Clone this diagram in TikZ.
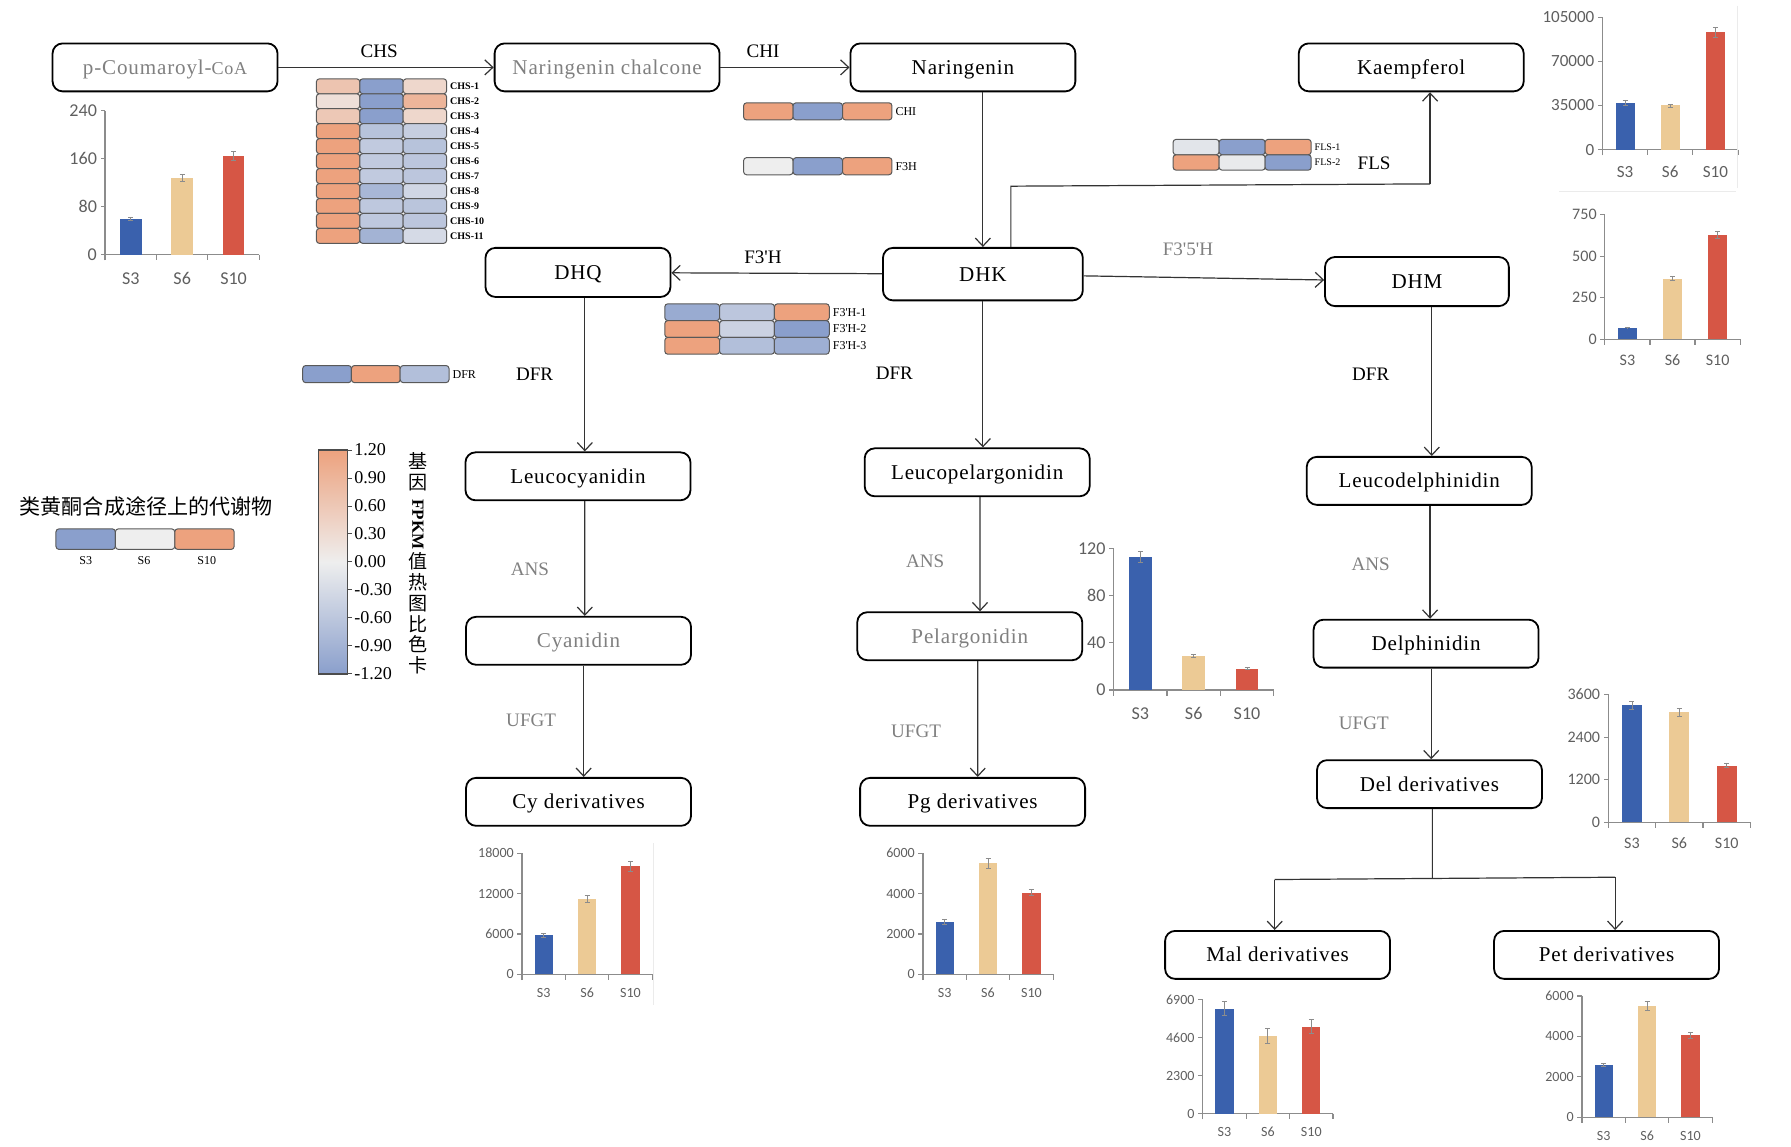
\documentclass[tikz,border=0pt]{standalone}
\usepackage{fontspec}
\setmainfont{Liberation Serif}
\newfontfamily\boxfont[LetterSpace=4]{Liberation Serif}
\newfontfamily\chartfont{Carlito}
\newfontfamily\cjk{Noto Sans CJK SC}
\usetikzlibrary{arrows.meta,calc}

\definecolor{hmhi}{HTML}{EDA27E}
\definecolor{hmmid}{HTML}{EEEEEE}
\definecolor{hmlo}{HTML}{8A9FCC}
\definecolor{barS3}{HTML}{3A61AD}
\definecolor{barS6}{HTML}{ECCA95}
\definecolor{barS10}{HTML}{D65645}
\definecolor{axisgray}{HTML}{8C8C8C}
\definecolor{labgray}{HTML}{5F5F5F}

\newcommand{\ap}{\textquotesingle}

% heat map colour from a value in -100..100
\newcommand{\hmcol}[1]{%
  \ifnum#1<0 \colorlet{hmc}{hmlo!\the\numexpr0-(#1)\relax!hmmid}%
  \else\colorlet{hmc}{hmhi!#1!hmmid}\fi}

% one heat map row: x, y, cell width, cell height, values, label, label font
\newcommand{\hmrow}[7]{%
  \edef\hmlist{#5}%
  \foreach \v [count=\k from 0] in \hmlist {%
    \hmcol{\v}%
    \draw[hmcell, fill=hmc] ({#1+\k*#3},{#2}) rectangle ++(#3,#4);
  }
  \node[anchor=west, font=#7, inner sep=1pt] at ({#1+3*#3+1},{#2+#4/2}) {#6};}

% bar chart: origin, axis height, group width, axis max, tick labels, value/error/sample, font size
\newcommand{\fpkmchart}[7]{%
  \begin{scope}[shift={#1}, font=\chartfont\fontsize{#7}{#7}\selectfont, text=labgray]
    \draw[axisline] (0,5) -- (0,-#2);
    \foreach \t [count=\i from 0] in {#5}
      \draw[axisline] (0,{-\i*#2/3}) -- (-4,{-\i*#2/3}) node[left, inner sep=1.5pt] {\t};
    \draw[axisline] (0,0) -- ({3*#3},0);
    \foreach \k in {1,2,3}
      \draw[axisline] ({\k*#3},0) -- ({\k*#3},5);
    \foreach \v/\e/\s [count=\k] in {#6} {
      \fill[bar\s] ({(\k-0.5)*#3-0.21*#3},0) rectangle ({(\k-0.5)*#3+0.21*#3},{-\v/#4*#2});
      \draw[errbar] ({(\k-0.5)*#3},{-(\v-\e)/#4*#2}) -- ({(\k-0.5)*#3},{-(\v+\e)/#4*#2});
      \node[inner sep=0] at ({(\k-0.5)*#3},{2.3*#7}) {\s};
    }
  \end{scope}}

\begin{document}
\begin{tikzpicture}[x=0.02cm, y=-0.02cm,
  met/.style={draw, rounded corners=5pt, line width=0.9pt, minimum width=3.94cm, minimum height=0.84cm, inner sep=1pt, text height=0.75em, text depth=0.05em, font=\boxfont\fontsize{10.5}{12}\selectfont},
  faded/.style={text=black!50},
  enz/.style={inner sep=1pt, font=\fontsize{9.5}{11}\selectfont},
  arr/.style={-{Straight Barb[length=4pt,width=7.5pt]}, line width=0.6pt, draw=black!80},
  link/.style={line width=0.6pt, draw=black!80},
  hmcell/.style={draw=black!65, line width=0.5pt, rounded corners=1.5pt},
  axisline/.style={draw=axisgray, line width=0.6pt},
  errbar/.style={draw=black!45, line width=0.4pt, {Bar[width=2.5pt]}-{Bar[width=2.5pt]}}]
   \useasboundingbox (0,0) rectangle (1568,1004);

   % metabolites
   \node[met, faded] (pcoa) at (144.5,59) {p-Coumaroyl-{\fontsize{9}{10}\selectfont CoA}};
   \node[met, faded] (nchal) at (531.5,59) {Naringenin chalcone};
   \node[met] (nar) at (843,59) {Naringenin};
   \node[met] (kae) at (1235.5,59) {Kaempferol};
   \node[met, minimum width=3.24cm, minimum height=0.86cm] (dhq) at (506,238.5) {DHQ};
   \node[met, minimum width=3.5cm, minimum height=0.92cm] (dhk) at (860.5,240) {DHK};
   \node[met, minimum width=3.22cm, minimum height=0.86cm] (dhm) at (1240.5,246.5) {DHM};
   \node[met] (lcy) at (506,417) {Leucocyanidin};
   \node[met] (lpg) at (855.5,413.5) {Leucopelargonidin};
   \node[met] (ldp) at (1242.5,421) {Leucodelphinidin};
   \node[met, faded] (cy) at (506.5,561) {Cyanidin};
   \node[met, faded] (pg) at (849,557) {Pelargonidin};
   \node[met] (dp) at (1248.5,563.5) {Delphinidin};
   \node[met] (cyd) at (506.5,702) {Cy derivatives};
   \node[met] (pgd) at (851.5,702) {Pg derivatives};
   \node[met] (dpd) at (1251.5,686.5) {Del derivatives};
   \node[met] (mal) at (1118.5,836) {Mal derivatives};
   \node[met] (pet) at (1406.5,836) {Pet derivatives};

   % enzymes
   \node[enz] (lchs) at (332,45) {CHS};
   \node[enz] (lchi) at (668,45) {CHI};
   \node[enz] (lf3h) at (668,225) {F3\ap H};
   \node[enz, faded] (lf35h) at (1040,218) {F3\ap 5\ap H};
   \node[enz] (lfls) at (1203,143) {FLS};
   \node[enz] (ldfra) at (468,328) {DFR};
   \node[enz] (ldfrb) at (783,327) {DFR};
   \node[enz] (ldfrc) at (1200,328) {DFR};
   \node[enz, faded] (lansa) at (464,498) {ANS};
   \node[enz, faded] (lansb) at (810,491) {ANS};
   \node[enz, faded] (lansc) at (1200,494) {ANS};
   \node[enz, faded] (lufgta) at (465,631) {UFGT};
   \node[enz, faded] (lufgtb) at (802,640) {UFGT};
   \node[enz, faded] (lufgtc) at (1194,633) {UFGT};

   % pathway
   \draw[arr] (pcoa) -- (nchal);
   \draw[arr] (nchal) -- (nar);
   \draw[arr] (nar.south -| dhk) -- (dhk.north);
   \draw[arr] (dhk) -- (dhq);
   \draw[arr] (dhk) -- (dhm);
   \coordinate (flsa) at (885,163);
   \coordinate (flsb) at (1252,161);
   \draw[link] (dhk.north -| flsa) -- (flsa) -- (flsb);
   \draw[arr] (flsb) -- (kae.south -| flsb);
   \draw[arr] ($(dhq.south)+(6,0)$) -- ($(lcy.north)+(6,0)$);
   \draw[arr] (dhk.south) -- (lpg.north -| dhk);
   \draw[arr] ($(dhm.south)+(13,0)$) -- ($(ldp.north)+(11,0)$);
   \draw[arr] ($(lcy.south)+(6,0)$) -- ($(cy.north)+(5.5,0)$);
   \draw[arr] ($(lpg.south)+(2.5,0)$) -- ($(pg.north)+(9,0)$);
   \draw[arr] ($(ldp.south)+(9.5,0)$) -- ($(dp.north)+(3.5,0)$);
   \draw[arr] ($(cy.south)+(4.5,0)$) -- ($(cyd.north)+(4.5,0)$);
   \draw[arr] ($(pg.south)+(7,0)$) -- ($(pgd.north)+(4.5,0)$);
   \draw[arr] ($(dp.south)+(4.5,0)$) -- ($(dpd.north)+(1.5,0)$);
   \coordinate (brc) at (1254,769);
   \coordinate (brl) at (1116,770);
   \coordinate (brr) at (1414,768);
   \draw[link] ($(dpd.south)+(2.5,0)$) -- (brc);
   \draw[link] (brl) -- (brr);
   \draw[arr] (brl) -- (mal.north -| brl);
   \draw[arr] (brr) -- (pet.north -| brr);

   % gene heat maps
   \foreach \vals [count=\r] in {{55,-100,30},{20,-100,75},{50,-100,30},{100,-55,-40},{100,-45,-55},{100,-45,-50},{100,-45,-50},{100,-70,-30},{100,-48,-52},{100,-48,-50},{100,-75,-25}}
     \hmrow{277}{69+(\r-1)*13.1}{38}{13.1}{\vals}{CHS-\r}{\fontsize{5}{6}\selectfont\bfseries};
   \hmrow{651}{90}{43.3}{15}{100,-100,100}{CHI}{\fontsize{6}{7}\selectfont}
   \hmrow{651}{138}{43.3}{15}{0,-100,100}{F3H}{\fontsize{6}{7}\selectfont}
   \foreach \vals [count=\r] in {{-85,-50,100},{100,-35,-100},{100,-60,-80}}
     \hmrow{582}{266+(\r-1)*14.7}{48}{14.7}{\vals}{F3\ap H-\r}{\fontsize{6}{7}\selectfont};
   \foreach \vals [count=\r] in {{-12,-100,100},{100,-5,-100}}
     \hmrow{1027}{122+(\r-1)*13.5}{40.3}{13.5}{\vals}{FLS-\r}{\fontsize{5}{6}\selectfont};
   \hmrow{265}{320}{42.7}{15}{-100,100,-60}{DFR}{\fontsize{6}{7}\selectfont}

   % legend
   \node[font=\cjk\fontsize{10.5}{12}\selectfont] (legtitle) at (128,443) {类黄酮合成途径上的代谢物};
   \hmrow{49}{463}{52}{18}{-100,0,100}{}{\fontsize{6}{7}\selectfont}
   \node[font=\fontsize{6}{7}\selectfont] (legsa) at (75,491) {S3};
   \node[font=\fontsize{6}{7}\selectfont] (legsb) at (126,491) {S6};
   \node[font=\fontsize{6}{7}\selectfont] (legsc) at (181,491) {S10};

   % colour bar
   \shade[top color=hmhi, bottom color=hmlo, middle color=hmmid] (279,394) rectangle (304,590);
   \draw[draw=black!70, line width=0.6pt] (279,394) rectangle (304,590);
   \foreach \t [count=\i from 0] in {1.20,0.90,0.60,0.30,0.00,-0.30,-0.60,-0.90,-1.20}
     \draw[line width=0.5pt, draw=black!70] (304,{394+\i*24.5}) -- (308,{394+\i*24.5}) node[right, inner sep=1pt, font=\fontsize{9}{10}\selectfont] {\t};
   \node[inner sep=0, align=center, font=\cjk\fontsize{9.5}{10.6}\selectfont] (cbcapa) at (366,413) {基\\因};
   \node[inner sep=0, rotate=-90, font=\bfseries\fontsize{8.5}{10}\selectfont] (cbcapb) at (366,459) {FPKM};
   \node[inner sep=0, align=center, font=\cjk\fontsize{9.5}{10.4}\selectfont] (cbcapc) at (366,537) {值\\热\\图\\比\\色\\卡};

   % FPKM bar charts
   \fpkmchart{(92,223)}{126}{45}{240}{0,80,160,240}{60/3/S3,128/6/S6,165/8/S10}{9}
   \fpkmchart{(1403,131)}{116}{39.5}{105}{0,35000,70000,105000}{37/2/S3,35/1.5/S6,93/4/S10}{8.5}
   \fpkmchart{(1405,297)}{109}{39.5}{750}{0,250,500,750}{70/3/S3,365/15/S6,630/25/S10}{8}
   \fpkmchart{(975,604)}{124}{46.7}{120}{0,40,80,120}{113/5/S3,29/1.5/S6,18/1/S10}{9}
   \fpkmchart{(1408,720)}{112}{41.5}{36}{0,1200,2400,3600}{33/1.3/S3,31/1.2/S6,16/0.7/S10}{8}
   \fpkmchart{(457,853)}{106}{38}{18}{0,6000,12000,18000}{5.8/0.3/S3,11.2/0.6/S6,16.1/0.8/S10}{7}
   \fpkmchart{(808,853)}{106}{38}{6}{0,2000,4000,6000}{2.6/0.15/S3,5.5/0.25/S6,4.05/0.18/S10}{7}
   \fpkmchart{(1053,975)}{100}{38}{6.9}{0,2300,4600,6900}{6.35/0.45/S3,4.7/0.5/S6,5.25/0.45/S10}{7}
   \fpkmchart{(1385,978)}{106}{38}{6}{0,2000,4000,6000}{2.6/0.1/S3,5.5/0.25/S6,4.05/0.18/S10}{7}
   \draw[black!8, line width=0.5pt] (1521,5) -- (1521,165);
   \draw[black!8, line width=0.5pt] (1365,168) -- (1520,168);
   \draw[black!8, line width=0.5pt] (572,738) -- (572,880);
\end{tikzpicture}
\end{document}
